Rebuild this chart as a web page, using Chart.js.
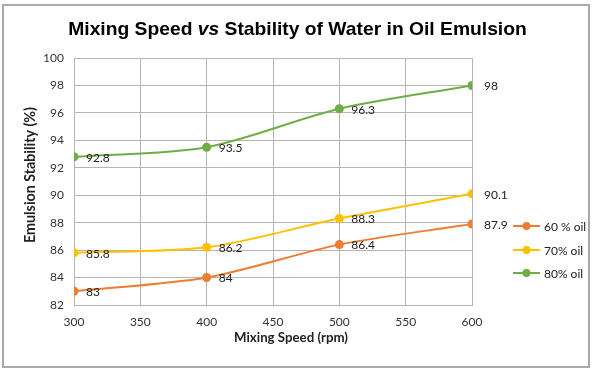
<!DOCTYPE html>
<html lang="en">
<head>
    <meta charset="UTF-8">
    <title>Mixing Speed vs Stability</title>
    <script src="https://cdn.jsdelivr.net/npm/chart.js"></script>
    <style>
        body { margin: 0; background: #fff; }
        #wrap { width: 600px; height: 375px; position: relative; }
    </style>
</head>
<body>
    <div id="wrap"><canvas id="chart" width="600" height="375"></canvas></div>

    <script>
        // values
        const speeds = [300, 400, 500, 600];
        const seriesNames = ["60 % oil", "70% oil", "80% oil"];
        const oil60 = [83, 84, 86.4, 87.9];
        const oil70 = [85.8, 86.2, 88.3, 90.1];
        const oil80 = [92.8, 93.5, 96.3, 98];
        const colors = ["#ED7D31", "#FFC000", "#70AD47"];

        const tickFont = "Lato";

        function fitFont(ctx, text, weight, family, width) {
            ctx.font = weight + " 20px " + family;
            return 20 * width / ctx.measureText(text).width;
        }

        // frame, title, axis titles, legend and value labels
        const extras = {
            id: "extras",
            beforeDraw(chart) {
                const ctx = chart.ctx;
                ctx.save();
                ctx.fillStyle = "#fff";
                ctx.fillRect(0, 0, chart.width, chart.height);
                ctx.strokeStyle = "#a9a9a9";
                ctx.lineWidth = 2;
                ctx.strokeRect(3, 5, 586, 362);
                ctx.restore();
            },
            afterDatasetsDraw(chart) {
                const ctx = chart.ctx;
                ctx.save();
                ctx.font = "12px " + tickFont;
                ctx.fillStyle = "#222";
                ctx.textBaseline = "middle";
                chart.data.datasets.forEach((ds, i) => {
                    chart.getDatasetMeta(i).data.forEach((pt, j) => {
                        ctx.fillText(String(ds.data[j].y), pt.x + 12, pt.y + 1);
                    });
                });
                ctx.restore();
            },
            afterDraw(chart) {
                const ctx = chart.ctx;
                ctx.save();
                // title with italic "vs"
                const parts = [["bold", "Mixing Speed "], ["italic bold", "vs"], ["bold", " Stability of Water in Oil Emulsion"]];
                let size = 20;
                const measure = s => parts.reduce((w, p) => {
                    ctx.font = p[0] + " " + s + "px 'Liberation Sans', Arial";
                    return w + ctx.measureText(p[1]).width;
                }, 0);
                size = 20 * 459 / measure(20);
                let x = 297.5 - measure(size) / 2;
                ctx.fillStyle = "#000";
                ctx.textBaseline = "alphabetic";
                parts.forEach(p => {
                    ctx.font = p[0] + " " + size + "px 'Liberation Sans', Arial";
                    ctx.fillText(p[1], x, 35);
                    x += ctx.measureText(p[1]).width;
                });

                // axis titles
                ctx.fillStyle = "#222";
                ctx.textAlign = "center";
                ctx.textBaseline = "middle";
                const xt = "Mixing Speed (rpm)";
                ctx.font = "bold " + fitFont(ctx, xt, "bold", tickFont, 114) + "px " + tickFont;
                ctx.fillText(xt, 291, 338);
                const yt = "Emulsion Stability (%)";
                ctx.font = "bold " + fitFont(ctx, yt, "bold", tickFont, 136) + "px " + tickFont;
                ctx.translate(30, 175);
                ctx.rotate(-Math.PI / 2);
                ctx.fillText(yt, 0, 0);
                ctx.setTransform(1, 0, 0, 1, 0, 0);

                // legend
                ctx.textAlign = "left";
                ctx.font = "12px " + tickFont;
                const rows = [226, 250, 273];
                chart.data.datasets.forEach((ds, i) => {
                    const y = rows[i];
                    ctx.strokeStyle = ds.borderColor;
                    ctx.lineWidth = 2;
                    ctx.beginPath();
                    ctx.moveTo(513, y);
                    ctx.lineTo(540, y);
                    ctx.stroke();
                    ctx.fillStyle = ds.borderColor;
                    ctx.beginPath();
                    ctx.arc(526.5, y, 4, 0, Math.PI * 2);
                    ctx.fill();
                    ctx.fillStyle = "#222";
                    ctx.fillText(ds.label, 544, y + 1);
                });
                ctx.restore();
            }
        };

        const seriesValues = [oil60, oil70, oil80];

        new Chart(document.getElementById("chart"), {
            type: "line",
            data: {
                datasets: seriesValues.map((vals, i) => ({
                    label: seriesNames[i],
                    data: vals.map((v, j) => ({ x: speeds[j], y: v })),
                    borderColor: colors[i],
                    backgroundColor: colors[i],
                    borderWidth: 2,
                    pointRadius: 4.5,
                    pointBorderWidth: 0,
                    tension: 0.3,
                    order: 3 - i
                }))
            },
            options: {
                responsive: false,
                animation: false,
                layout: { padding: { left: 22, top: 58, right: 128, bottom: 0 } },
                plugins: {
                    legend: { display: false },
                    tooltip: { enabled: false }
                },
                scales: {
                    x: {
                        type: "linear",
                        min: 300,
                        max: 600,
                        ticks: { stepSize: 50, padding: 10, color: "#333", font: { family: tickFont, size: 12 } },
                        grid: { color: "#b4b4b4", drawTicks: false },
                        border: { color: "#b4b4b4" },
                        afterFit(scale) {
                            scale.height = 70;
                            scale.paddingLeft = 0;
                            scale.paddingRight = 0;
                        }
                    },
                    y: {
                        min: 82,
                        max: 100,
                        ticks: { stepSize: 2, padding: 10, color: "#333", font: { family: tickFont, size: 12 } },
                        grid: { color: "#b4b4b4", drawTicks: false },
                        border: { color: "#b4b4b4" },
                        afterFit(scale) {
                            scale.width = 52;
                            scale.paddingTop = 0;
                            scale.paddingBottom = 0;
                        }
                    }
                }
            },
            plugins: [extras]
        });
    </script>
</body>
</html>
